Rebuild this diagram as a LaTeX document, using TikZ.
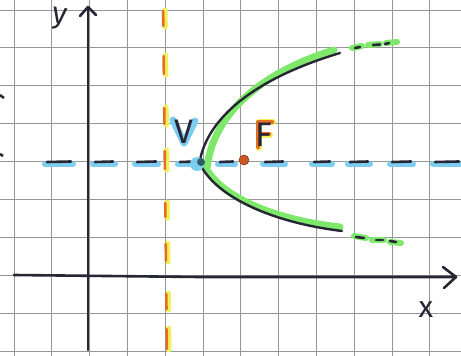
\documentclass[tikz,border=0pt]{standalone}
\usepackage{fontspec}
\setmainfont{Fira Sans}
\definecolor{inkc}{RGB}{38,38,52}
\definecolor{gridc}{RGB}{150,150,150}
\definecolor{hlgreen}{RGB}{125,232,105}
\definecolor{hlblue}{RGB}{125,205,240}
\definecolor{dirorange}{RGB}{225,110,35}
\definecolor{diryellow}{RGB}{240,240,90}
\definecolor{vertc}{RGB}{45,95,105}
\definecolor{focc}{RGB}{205,85,40}
\begin{document}
\begin{tikzpicture}[x=1pt,y=-1pt,
  gridline/.style={draw=gridc, line width=0.9pt},
  axisline/.style={draw=inkc, line width=2.6pt, line cap=round, line join=round},
  curveline/.style={draw=inkc, line width=2.4pt, line cap=round},
  greenhl/.style={draw=hlgreen, line width=7pt, line cap=round},
  bluehl/.style={draw=hlblue, line width=6pt, line cap=round},
  bluedash/.style={draw=inkc, line width=2.6pt, line cap=round},
  yellowhl/.style={draw=diryellow, line width=5pt, line cap=round},
  orangedash/.style={draw=dirorange, line width=2.6pt, line cap=round},
  lbl/.style={inner sep=0pt, text=inkc}
]
\useasboundingbox (0,0) rectangle (461,356);
\fill[white] (0,0) rectangle (461,356);
% grid
\foreach \k in {0,...,11} {
  \pgfmathsetmacro{\gx}{14+37.8*\k}
  \draw[gridline] (\gx,0) -- (\gx,356);
}
\foreach \k in {0,...,9} {
  \pgfmathsetmacro{\gy}{10+37.9*\k}
  \draw[gridline] (0,\gy) -- (461,\gy);
}
% left edge marks
\draw[inkc, line width=2.5pt] (0,95) -- (4,98);
\draw[inkc, line width=2.5pt] (0,154) -- (3,156);
% directrix
\foreach \a/\b in {10/27,55/75,107/125,150/170,202/218,243/262,293/310,328/350} {
  \draw[yellowhl] ({165+4*\a/356},\a) -- ({165+4*\b/356},\b);
  \draw[orangedash] ({163+4*\a/356},\a+1) -- ({163+4*\b/356},\b-1);
}
% axis of symmetry
\foreach \a/\b in {45/73,93/115,135/158,178/198,218/235,263/285,312/332,348/370,390/413,433/461} {
  \draw[bluehl] (\a,164) -- (\b,164);
  \draw[bluedash] (\a+2,162) -- (\b-2,161.5);
}
% axes
\draw[axisline] (88,350) -- (88,8);
\draw[axisline] (80,16) -- (88,7) -- (96,15);
\draw[axisline] (14,275) -- (200,277) -- (456,277);
\draw[axisline] (443,267) -- (456,277) -- (444,288);
\node[lbl, font=\fontsize{30}{30}\selectfont, rotate=-8] (ylab) at (59,19) {y};
\node[lbl, font=\fontsize{30}{30}\selectfont] (xlab) at (426,310) {x};
% parabola highlights
\draw[greenhl] (207,168) .. controls (212,122) and (250,76) .. (334,50);
\draw[greenhl] (205,166) .. controls (218,194) and (268,219) .. (340,227);
\foreach \a/\b/\c/\d in {352/48/362/46,368/45/380/44,386/43/397/42,354/236/366/238,372/240/384/240,390/242/401/243} {
  \draw[hlgreen, line width=6pt, line cap=round] (\a,\b) -- (\c,\d);
}
% parabola
\draw[curveline] (200,160) .. controls (208,120) and (250,80) .. (340,53);
\draw[curveline] (200,164) .. controls (215,195) and (268,222) .. (342,231);
\foreach \a/\b/\c/\d in {355/48/360/47,373/45/380/44.5,385/44/389/43,356/237/364/238,376/240/383/240,390/241/396/242} {
  \draw[inkc, line width=2.6pt, line cap=round] (\a,\b) -- (\c,\d);
}
% vertex and focus
\fill[hlblue] (197,164) circle (7);
\node[circle, fill=vertc, minimum size=8pt, inner sep=0pt] (vertex) at (201,162) {};
\node[circle, fill=focc, draw=focc!70!black, line width=0.6pt, minimum size=10pt, inner sep=0pt] (focus) at (244,160) {};
% V label
\draw[hlblue, line width=7pt, line cap=round, line join=round] (173,120) -- (184,143) -- (195,121);
\node[lbl, font=\fontsize{34}{34}\selectfont] (V) at (184,132) {V};
% F label
\draw[diryellow, line width=6pt, line cap=round, line join=round] (259,148) -- (259,122) -- (273,122);
\draw[diryellow, line width=6pt, line cap=round] (259,135) -- (270,135);
\draw[dirorange, line width=4.5pt, line cap=round, line join=round] (258,147) -- (258,122) -- (272,122);
\draw[dirorange, line width=4.5pt, line cap=round] (258,134) -- (269,134);
\node[lbl, font=\fontsize{34}{34}\selectfont] (F) at (264,135) {F};
\end{tikzpicture}
\end{document}
